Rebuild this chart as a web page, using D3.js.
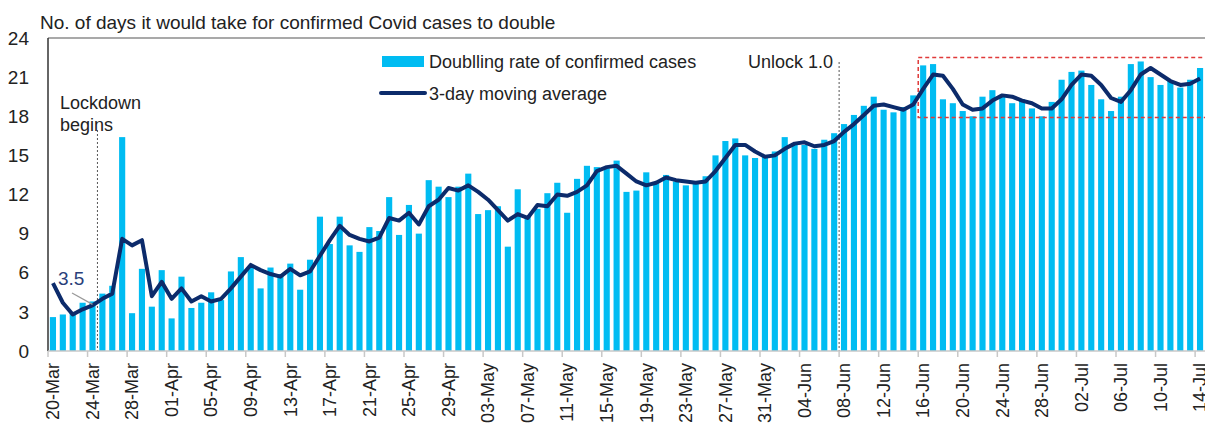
<!DOCTYPE html>
<html>
<head>
<meta charset="utf-8">
<script src="https://cdn.jsdelivr.net/npm/d3@7"></script>
<style>
  body { margin: 0; background: #fff; }
  svg { display: block; font-family: "Liberation Sans Narrow", "Arial Narrow", sans-serif; }
</style>
</head>
<body>
<svg id="chart" width="1205" height="423"></svg>
<script>
// Doubling rate (days), one value per day from 20-Mar to 14-Jul
const doublingRate = [
  2.6, 2.8, 3.0, 3.7, 3.8, 4.4, 5.0, 16.4, 2.9, 6.3,
  3.4, 6.2, 2.5, 5.7, 3.3, 3.7, 4.5, 3.9, 6.1, 7.2,
  6.5, 4.8, 6.4, 5.9, 6.7, 4.7, 7.0, 10.3, 8.2, 10.3,
  8.1, 7.6, 9.5, 9.2, 11.8, 8.9, 11.2, 9.0, 13.1, 12.6,
  11.8, 12.6, 13.6, 10.5, 10.8, 11.1, 8.0, 12.4, 10.3, 10.9,
  12.1, 12.9, 10.6, 13.2, 14.2, 14.1, 14.0, 14.6, 12.2, 12.3,
  13.7, 12.9, 13.5, 13.0, 12.7, 13.0, 13.4, 15.0, 16.1, 16.3,
  15.0, 14.8, 14.9, 15.3, 16.4, 15.9, 15.8, 15.5, 16.2, 16.7,
  17.4, 18.1, 18.8, 19.5, 18.5, 18.3, 18.7, 19.6, 21.9, 22.0,
  19.3, 19.0, 18.4, 18.0, 19.5, 20.0, 19.5, 19.0, 19.3, 18.6,
  18.0, 19.1, 20.8, 21.4, 21.5, 20.4, 19.3, 18.4, 19.5, 22.0,
  22.2, 21.0, 20.4, 20.7, 20.2, 20.8, 21.7
];

// 3-day moving average as drawn
const movingAvg = [
  5.2, 3.7, 2.8, 3.2, 3.5, 4.0, 4.4, 8.6, 8.1, 8.5,
  4.2, 5.3, 4.0, 4.8, 3.8, 4.2, 3.8, 4.0, 4.8, 5.7,
  6.6, 6.2, 5.9, 5.7, 6.3, 5.8, 6.1, 7.3, 8.5, 9.6,
  8.9, 8.6, 8.4, 8.7, 10.2, 10.0, 10.6, 9.7, 11.1, 11.6,
  12.5, 12.3, 12.7, 12.2, 11.6, 10.8, 10.0, 10.5, 10.2, 11.2,
  11.1, 12.0, 11.9, 12.2, 12.7, 13.8, 14.1, 14.2, 13.6, 13.0,
  12.7, 12.9, 13.3, 13.1, 13.0, 12.9, 13.0, 13.8, 14.8, 15.8,
  15.8, 15.3, 14.9, 15.0, 15.5, 15.9, 16.0, 15.7, 15.8, 16.1,
  16.8, 17.4, 18.1, 18.8, 18.9, 18.7, 18.5, 18.9, 20.1, 21.2,
  21.1, 20.1, 18.9, 18.5, 18.6, 19.2, 19.6, 19.5, 19.2, 19.0,
  18.6, 18.6, 19.3, 20.4, 21.2, 21.1, 20.4, 19.4, 19.1, 20.0,
  21.2, 21.7, 21.2, 20.7, 20.4, 20.5, 20.9
];

const dates = d3.timeDay.range(new Date(2020, 2, 20), new Date(2020, 6, 15));
const fmt = d3.timeFormat("%d-%b");
const yTicks = [0, 3, 6, 9, 12, 15, 18, 21, 24];

const margin = { top: 38, right: 0, bottom: 72, left: 48 };
const W = 1205, H = 423;
const svg = d3.select("#chart");

const x = d3.scaleBand()
  .domain(dates.map((d, i) => i))
  .range([margin.left, W - margin.right])
  .paddingInner(0.38)
  .paddingOuter(0.19);
const xCat = d3.scaleBand()
  .domain(dates.map((d, i) => i))
  .range([margin.left, W - margin.right]);
const y = d3.scaleLinear().domain([0, 24]).range([H - margin.bottom, margin.top]);

// top frame line
svg.append("line")
  .attr("x1", margin.left).attr("x2", W)
  .attr("y1", y(24)).attr("y2", y(24))
  .attr("stroke", "#8c8c8c").attr("stroke-width", 1.5);

// bars
svg.append("g").selectAll("rect")
  .data(doublingRate)
  .join("rect")
  .attr("x", (d, i) => x(i))
  .attr("width", x.bandwidth())
  .attr("y", d => y(d))
  .attr("height", d => y(0) - y(d))
  .attr("fill", "#00bcf2");

// red dashed highlight box
svg.append("rect")
  .attr("x", xCat(88))
  .attr("y", y(22.5))
  .attr("width", W - xCat(88) + 10)
  .attr("height", y(17.9) - y(22.5))
  .attr("fill", "none")
  .attr("stroke", "#e03a3a")
  .attr("stroke-width", 1.5)
  .attr("stroke-dasharray", "4,3");

// event lines
function eventLine(idx, yTop) {
  svg.append("line")
    .attr("x1", xCat(idx)).attr("x2", xCat(idx))
    .attr("y1", yTop).attr("y2", y(0))
    .attr("stroke", "#555").attr("stroke-width", 1)
    .attr("stroke-dasharray", "2,2");
}
eventLine(5, 130);
eventLine(80, 62);

// moving average line
const line = d3.line()
  .x((d, i) => xCat(i) + xCat.bandwidth() / 2)
  .y(d => y(d));
svg.append("path")
  .datum(movingAvg)
  .attr("d", line)
  .attr("fill", "none")
  .attr("stroke", "#0c2b6b")
  .attr("stroke-width", 4)
  .attr("stroke-linejoin", "round");

// y axis
svg.append("line")
  .attr("x1", margin.left).attr("x2", margin.left)
  .attr("y1", y(24)).attr("y2", y(0))
  .attr("stroke", "#333").attr("stroke-width", 1.5);
svg.append("g").selectAll("text")
  .data(yTicks)
  .join("text")
  .attr("x", 29)
  .attr("y", d => y(d))
  .attr("dy", "0.35em")
  .attr("text-anchor", "end")
  .attr("font-size", 19)
  .attr("fill", "#222")
  .text(d => d);

// x axis
svg.append("line")
  .attr("x1", margin.left).attr("x2", W)
  .attr("y1", y(0)).attr("y2", y(0))
  .attr("stroke", "#c8c8c8").attr("stroke-width", 1.5);
const tickIdx = dates.map((d, i) => i).filter(i => i % 4 === 0);
svg.append("g").selectAll("line")
  .data(tickIdx)
  .join("line")
  .attr("x1", i => xCat(i)).attr("x2", i => xCat(i))
  .attr("y1", y(0)).attr("y2", y(0) + 6)
  .attr("stroke", "#c8c8c8").attr("stroke-width", 1.5);
svg.append("g").selectAll("text")
  .data(tickIdx)
  .join("text")
  .attr("transform", i => `translate(${xCat(i) + xCat.bandwidth() / 2},${y(0) + 12}) rotate(-90)`)
  .attr("dy", "0.35em")
  .attr("text-anchor", "end")
  .attr("font-size", 18)
  .attr("fill", "#222")
  .text(i => fmt(dates[i]));

// title
svg.append("text")
  .attr("x", 40).attr("y", 29)
  .attr("font-size", 19)
  .attr("fill", "#222")
  .text("No. of days it would take for confirmed Covid cases to double");

// annotations
svg.append("text").attr("x", 60).attr("y", 109).attr("font-size", 18).attr("fill", "#222").text("Lockdown");
svg.append("text").attr("x", 60).attr("y", 131).attr("font-size", 18).attr("fill", "#222").text("begins");
svg.append("text").attr("x", 748).attr("y", 68).attr("font-size", 18).attr("fill", "#222").text("Unlock 1.0");
svg.append("text").attr("x", 58).attr("y", 285).attr("font-size", 19).attr("fill", "#2a3f7a").text("3.5");
svg.append("line")
  .attr("x1", 72).attr("y1", 293)
  .attr("x2", xCat(4) + xCat.bandwidth() / 2).attr("y2", y(movingAvg[4]) - 1)
  .attr("stroke", "#999").attr("stroke-width", 1.2);

// legend
svg.append("rect").attr("x", 382).attr("y", 56).attr("width", 42).attr("height", 11).attr("fill", "#00bcf2");
svg.append("text").attr("x", 429).attr("y", 68).attr("font-size", 18).attr("fill", "#222").text("Doublling rate of confirmed cases");
svg.append("line").attr("x1", 381).attr("x2", 425).attr("y1", 93).attr("y2", 93)
  .attr("stroke", "#0c2b6b").attr("stroke-width", 4).attr("stroke-linecap", "round");
svg.append("text").attr("x", 429).attr("y", 100).attr("font-size", 18).attr("fill", "#222").text("3-day moving average");
</script>
</body>
</html>
